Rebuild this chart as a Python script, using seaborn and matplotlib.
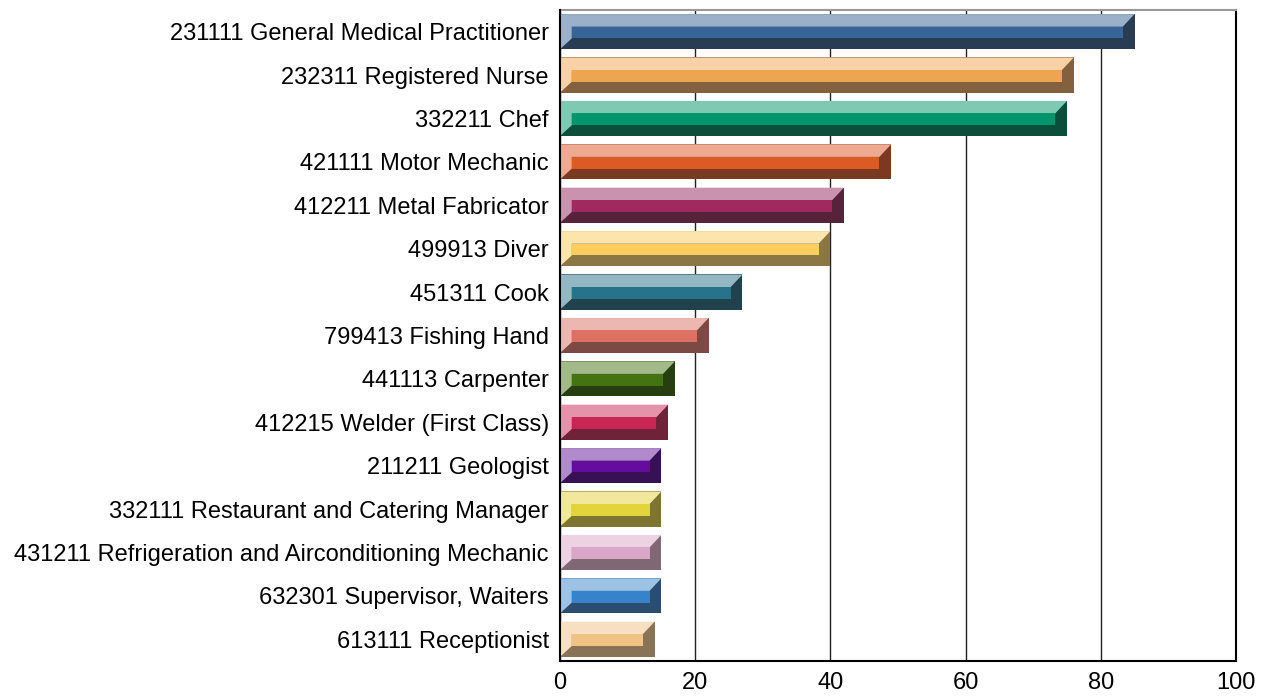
import matplotlib
matplotlib.use("Agg")
import matplotlib.pyplot as plt
import seaborn as sns
import pandas as pd
from matplotlib.patches import Polygon

occupations = [
    "231111 General Medical Practitioner",
    "232311 Registered Nurse",
    "332211 Chef",
    "421111 Motor Mechanic",
    "412211 Metal Fabricator",
    "499913 Diver",
    "451311 Cook",
    "799413 Fishing Hand",
    "441113 Carpenter",
    "412215 Welder (First Class)",
    "211211 Geologist",
    "332111 Restaurant and Catering Manager",
    "431211 Refrigeration and Airconditioning Mechanic",
    "632301 Supervisor, Waiters",
    "613111 Receptionist",
]
counts = [85, 76, 75, 49, 42, 40, 27, 22, 17, 16, 15, 15, 15, 15, 14]

# light / main / dark shade for each bar (bevel look)
light_colors = ["#9BB0C9", "#F8D1A6", "#7FC8B2", "#EDAA90", "#C993AF", "#FCE5AC", "#94B8C3", "#EBB7B0",
                "#A2BA8A", "#E593AB", "#B08ACB", "#F1E89C", "#ECD2E2", "#9CC2E5", "#F8DFC1"]
main_colors = ["#376599", "#EEA552", "#00956C", "#DC5A24", "#A02A60", "#FDCD60", "#27738A", "#DC7062",
               "#447311", "#CA2653", "#640BA0", "#E2D43A", "#D9A6C7", "#3683CC", "#F0C284"]
dark_colors = ["#213B5B", "#8E6132", "#005A40", "#873413", "#5E1B3A", "#967B3A", "#174653", "#84433B",
               "#27450A", "#7A1733", "#3A0660", "#8A7F26", "#836375", "#1E4D7C", "#90744F"]

df = pd.DataFrame({"occupation": occupations, "count": counts})

sns.set_theme(style="white")
plt.rcParams["font.family"] = ["Liberation Sans", "DejaVu Sans"]

fig = plt.figure(figsize=(12.66, 6.97), dpi=100)
ax = fig.add_axes([0.4423, 0.0517, 0.5340, 0.9340])

bar_w = 0.81
sns.barplot(data=df, y="occupation", x="count", hue="occupation", palette=dark_colors,
            legend=False, width=bar_w, orient="h", linewidth=0, ax=ax, zorder=3)

# bevel facets on top of each bar
dx = 1.75   # horizontal inset, data units
dt = 0.29   # top band
db = 0.25   # bottom band
for i, p in enumerate(ax.patches):
    x0, x1 = p.get_x(), p.get_x() + p.get_width()
    yt, yb = p.get_y(), p.get_y() + p.get_height()  # y axis inverted: yt is visual top
    ix0, ix1 = x0 + dx, x1 - dx
    iyt, iyb = yt + dt, yb - db
    light = Polygon([(x0, yt), (x1, yt), (ix1, iyt), (ix0, iyt), (ix0, iyb), (x0, yb)],
                    closed=True, facecolor=light_colors[i], edgecolor="none", zorder=4)
    mid = Polygon([(ix0, iyt), (ix1, iyt), (ix1, iyb), (ix0, iyb)],
                  closed=True, facecolor=main_colors[i], edgecolor="none", zorder=5)
    ax.add_patch(light)
    ax.add_patch(mid)

ax.set_xlim(0, 100)
ax.set_ylim(len(occupations) - 0.5, -0.5)
ax.set_xticks([0, 20, 40, 60, 80, 100])
ax.grid(axis="x", color="#222222", linewidth=1.0, zorder=0)
ax.set_axisbelow(True)
ax.set_xlabel("")
ax.set_ylabel("")
ax.tick_params(axis="x", labelsize=17, length=0, pad=8, colors="black")
ax.tick_params(axis="y", labelsize=17, length=0, pad=8, colors="black")

for side in ["left", "bottom", "right"]:
    ax.spines[side].set_color("black")
    ax.spines[side].set_linewidth(1.5)
ax.spines["top"].set_color("#999999")
ax.spines["top"].set_linewidth(1.5)
ax.spines["left"].set_zorder(6)

plt.savefig("out.png", dpi=100)
plt.close()
